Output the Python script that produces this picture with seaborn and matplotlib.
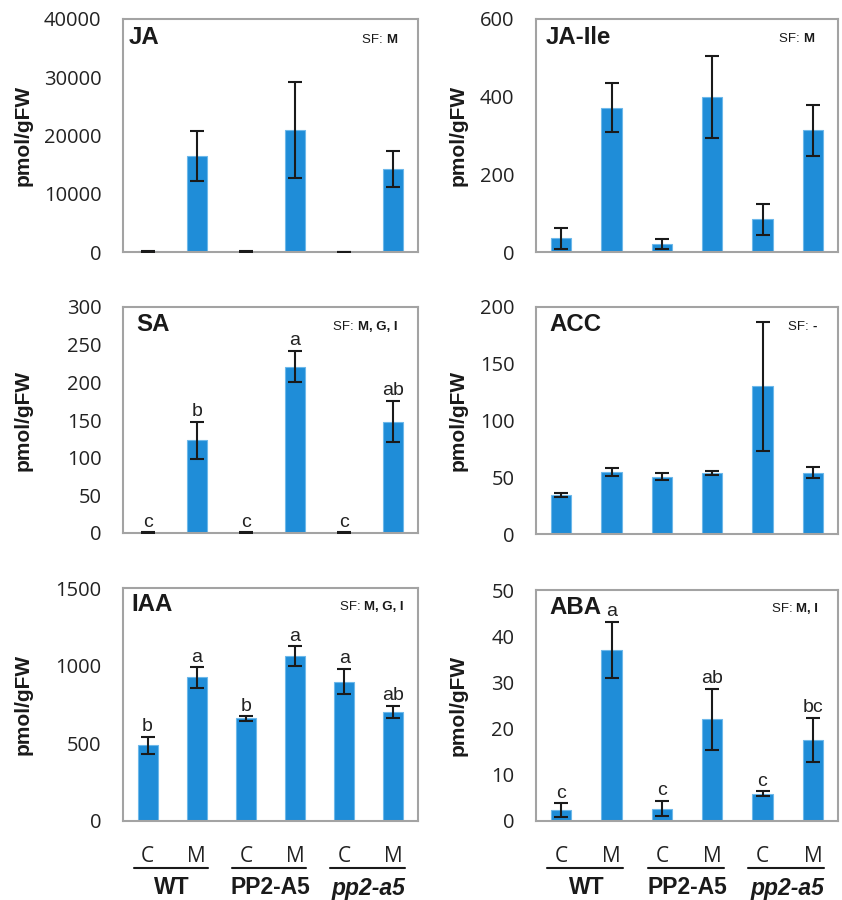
import matplotlib
matplotlib.use("Agg")
import matplotlib.pyplot as plt
import seaborn as sns
import numpy as np

# ---------------- data ----------------
genotypes = ["WT", "PP2-A5", "pp2-a5"]
conditions = ["C", "M"]
groups = ["WT C", "WT M", "PP2-A5 C", "PP2-A5 M", "pp2-a5 C", "pp2-a5 M"]

ja_mean = [150, 16500, 60, 20900, 50, 14250]
ja_err = [80, 4300, 30, 8200, 25, 3100]
ja_ticks = [0, 10000, 20000, 30000, 40000]

jaile_mean = [35, 372, 20, 399, 84, 313]
jaile_err = [27, 63, 13, 105, 40, 66]
jaile_ticks = [0, 200, 400, 600]

sa_mean = [0.5, 123, 0.5, 221, 0.5, 148]
sa_err = [0.2, 24.6, 0.2, 20.6, 0.2, 27.7]
sa_letters = ["c", "b", "c", "a", "c", "ab"]
sa_ticks = [0, 50, 100, 150, 200, 250, 300]

acc_mean = [34.6, 54.6, 50.5, 54.0, 130.0, 54.0]
acc_err = [1.8, 3.8, 3.2, 1.6, 57.0, 4.7]
acc_ticks = [0, 50, 100, 150, 200]

iaa_mean = [487, 925, 660, 1060, 898, 703]
iaa_err = [56, 66, 14, 65, 81, 38]
iaa_letters = ["b", "a", "b", "a", "a", "ab"]
iaa_ticks = [0, 500, 1000, 1500]

aba_mean = [2.3, 37.0, 2.7, 22.0, 5.9, 17.6]
aba_err = [1.5, 6.1, 1.7, 6.6, 0.5, 4.8]
aba_letters = ["c", "a", "c", "ab", "c", "bc"]
aba_ticks = [0, 10, 20, 30, 40, 50]

panels = [
    dict(title="JA", sf="M", mean=ja_mean, err=ja_err, letters=None, ticks=ja_ticks),
    dict(title="JA-Ile", sf="M", mean=jaile_mean, err=jaile_err, letters=None, ticks=jaile_ticks),
    dict(title="SA", sf="M, G, I", mean=sa_mean, err=sa_err, letters=sa_letters, ticks=sa_ticks),
    dict(title="ACC", sf="-", mean=acc_mean, err=acc_err, letters=None, ticks=acc_ticks),
    dict(title="IAA", sf="M, G, I", mean=iaa_mean, err=iaa_err, letters=iaa_letters, ticks=iaa_ticks),
    dict(title="ABA", sf="M, I", mean=aba_mean, err=aba_err, letters=aba_letters, ticks=aba_ticks),
]

# ---------------- style ----------------
sns.set_style("white")
plt.rcParams["font.family"] = ["Liberation Sans", "DejaVu Sans"]
TICKFONT = ["Open Sans", "DejaVu Sans"]
BAR = "#1f8dd8"
BAR_EDGE = "#6db8ea"
FRAME = "#a3a3a3"
INK = "#1a1a1a"

W, H = 842, 900
fig = plt.figure(figsize=(W / 100, H / 100), dpi=100)

# axes rectangles in pixels: (left, top, right, bottom)
rects = [
    (123, 19, 418, 252), (536, 19, 838, 252),
    (123, 307, 418, 533), (536, 307, 838, 534),
    (123, 588, 418, 821), (536, 590, 838, 821),
]
title_pos = [(0.020, 0.968), (0.033, 0.968), (0.046, 0.975), (0.043, 0.975),
             (0.027, 0.979), (0.043, 0.973)]
sf_pos = [(0.929, 0.91), (0.921, 0.913), (0.929, 0.913), (0.930, 0.913),
          (0.950, 0.92), (0.934, 0.918)]

for i, (p, r) in enumerate(zip(panels, rects)):
    l, t, rr, b = r
    ax = fig.add_axes([l / W, 1 - b / H, (rr - l) / W, (b - t) / H])
    sns.barplot(x=groups, y=p["mean"], color=BAR, saturation=1, width=0.41,
                errorbar=None, edgecolor=BAR_EDGE, linewidth=0.8, ax=ax)
    centers = [pt.get_x() + pt.get_width() / 2 for pt in ax.patches]
    ax.errorbar(centers, p["mean"], yerr=p["err"], fmt="none", ecolor=INK,
                elinewidth=1.5, capsize=5.2, capthick=1.5, zorder=5)
    ax.set_xlim(-0.5, 5.5)
    ax.set_ylim(p["ticks"][0], p["ticks"][-1])
    ax.set_yticks(p["ticks"])
    ax.set_yticklabels([str(v) for v in p["ticks"]], fontfamily=TICKFONT,
                       fontsize=14.5, color="#222222")
    ax.tick_params(axis="y", direction="out", length=4.5, width=1,
                   color=FRAME, pad=11)
    for s in ax.spines.values():
        s.set_color(FRAME)
        s.set_linewidth(1.5)
        s.set_visible(True)
    ax.set_ylabel("pmol/gFW", fontsize=15, fontweight="bold", color=INK)
    xlab = (33 - l) / (rr - l) if l < 300 else (468 - l) / (rr - l)
    ax.yaxis.set_label_coords(xlab, 0.5)
    ax.set_xlabel("")

    # panel title
    tx, ty = title_pos[i]
    ax.text(tx, ty, p["title"], transform=ax.transAxes, ha="left", va="top",
            fontsize=17.3, fontweight="bold", color=INK)
    # SF note
    sx, sy = sf_pos[i]
    bold = ax.text(sx, sy, p["sf"], transform=ax.transAxes, ha="right",
                   va="center", fontsize=9.5, fontweight="bold", color=INK)
    ax.annotate("SF: ", xy=(0, 0), xycoords=bold, ha="right", va="bottom",
                fontsize=9.5, color=INK)

    # significance letters
    if p["letters"]:
        for c, m, e, lt in zip(centers, p["mean"], p["err"], p["letters"]):
            ax.annotate(lt, xy=(c, m + e), xytext=(0, 4), textcoords="offset points",
                        ha="center", va="baseline", fontsize=14, color="#222222")

    if i >= 4:
        ax.set_xticks(centers)
        ax.set_xticklabels(conditions * 3, fontfamily=TICKFONT, fontsize=15,
                           color="#222222")
        ax.tick_params(axis="x", which="major", length=0, pad=18)
        if i == 5:
            ax.set_xticks(np.arange(-0.5, 6, 1), minor=True)
            ax.tick_params(axis="x", which="minor", direction="out", length=6,
                           width=1, color=FRAME)
        hpx = b - t
        yline = -47 / hpx
        ylab = -67 / hpx
        trans = ax.get_xaxis_transform()
        for g, name in enumerate(genotypes):
            x0 = centers[2 * g] - 0.28
            x1 = centers[2 * g + 1] + 0.23
            ax.plot([x0, x1], [yline, yline], transform=trans, color=INK,
                    lw=1.5, clip_on=False)
            ax.text((centers[2 * g] + centers[2 * g + 1]) / 2, ylab, name,
                    transform=trans, ha="center", va="center", fontsize=16.5,
                    fontweight="bold", fontstyle="italic" if name == "pp2-a5" else "normal",
                    color=INK)
    else:
        ax.tick_params(axis="x", which="both", length=0, labelbottom=False)

fig.savefig("out.png", dpi=100)
